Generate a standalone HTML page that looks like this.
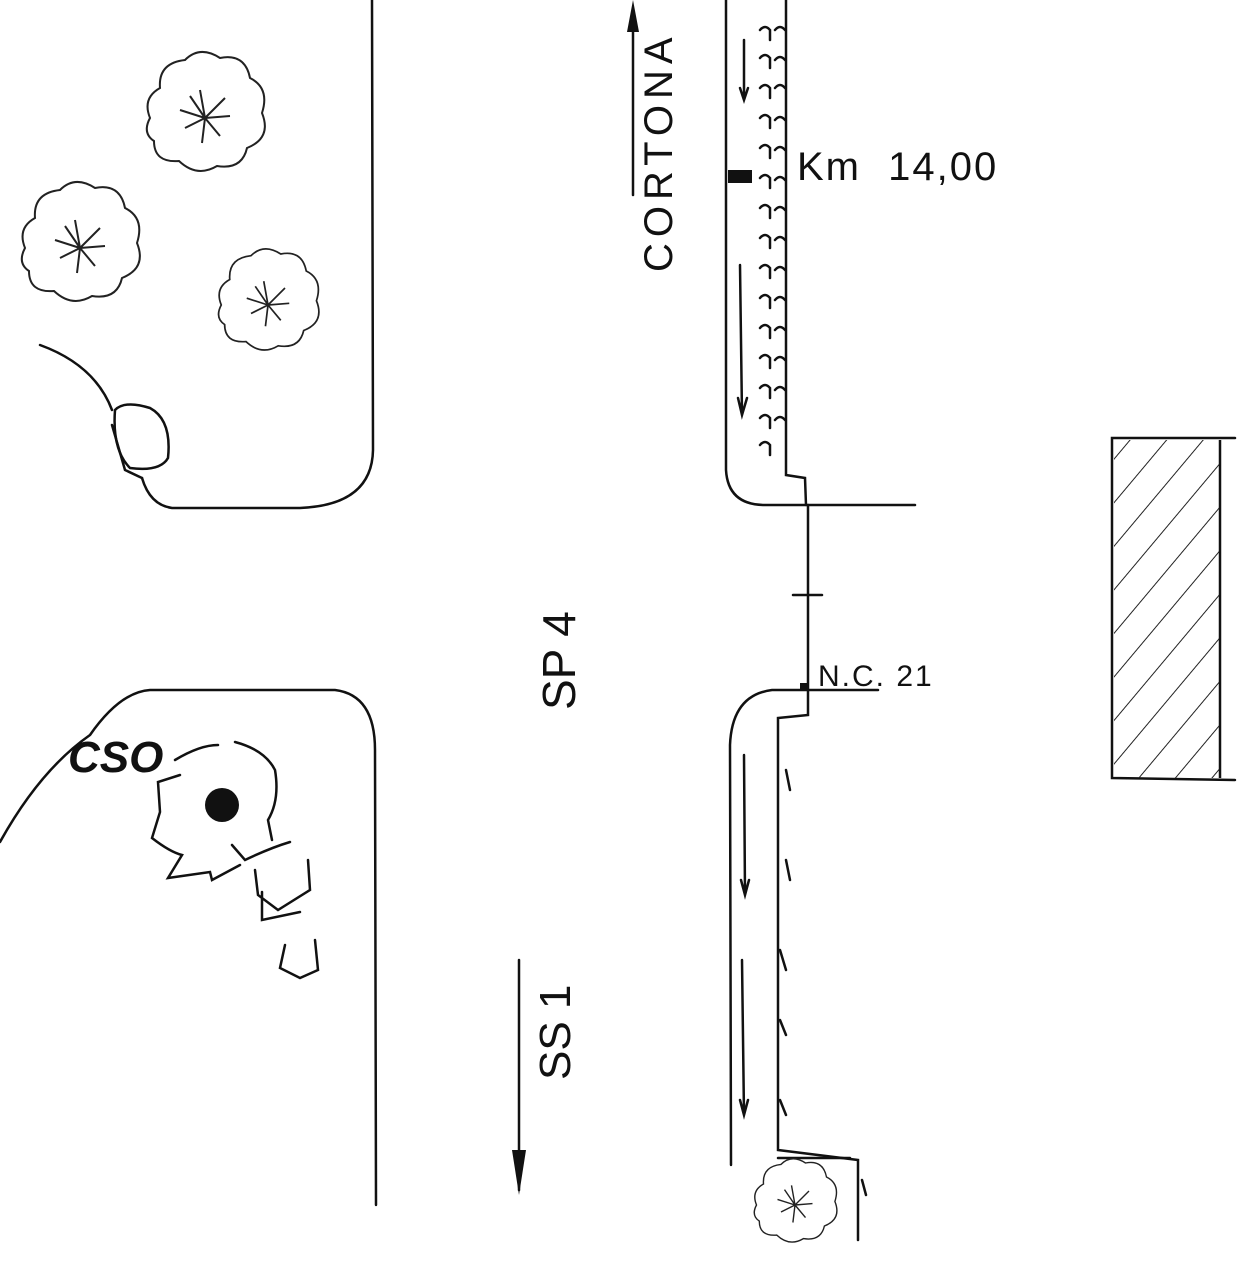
<!DOCTYPE html>
<html><head><meta charset="utf-8"><style>
html,body{margin:0;padding:0;background:#fff;}
svg{display:block}
text{font-family:"Liberation Sans",sans-serif;fill:#111}
</style></head><body>
<svg width="1260" height="1266" viewBox="0 0 1260 1266" xmlns="http://www.w3.org/2000/svg">
<defs>
<pattern id="h" width="28" height="28" patternUnits="userSpaceOnUse" patternTransform="rotate(40)">
<line x1="0" y1="0" x2="0" y2="28" stroke="#222" stroke-width="2"/>
</pattern>
<g id="tree">
<path d="M-55,0 q-8,-20 10,-30 q-2,-25 25,-28 q15,-15 35,-2 q25,-5 30,20 q20,10 12,35 q10,25 -15,35 q-5,22 -30,18 q-20,12 -38,-5 q-25,2 -25,-20 q-12,-8 -4,-23z" fill="none" stroke="#222" stroke-width="2"/>
<path d="M0,0 L-25,-8 M0,0 L-20,10 M0,0 L-5,-28 M0,0 L-3,25 M0,0 L20,-20 M0,0 L25,-2 M0,0 L15,18 M0,0 L-15,-22" stroke="#222" stroke-width="2"/>
</g>
</defs>
<g fill="none" stroke="#111" stroke-width="2.5" stroke-linecap="round">
<path d="M372,0 L373,450 Q372,505 300,508 L172,508 Q150,505 142,478"/>
<path d="M40,345 Q95,365 112,410"/>
<path d="M115,410 Q125,400 150,408 Q172,420 168,458 Q160,472 130,468 Q112,450 115,410z"/>
<path d="M112,425 L125,470 L142,478"/>
<path d="M0,842 Q40,770 90,735 Q120,692 150,690 L335,690 Q375,695 375,750 L376,1205"/>
<path d="M175,760 Q200,745 218,745 M235,742 Q265,750 275,770 Q280,800 268,820 L272,840 M180,775 L158,782 L160,812 L152,838 Q170,852 182,855 L168,878 L210,872 L212,880 L240,865 M232,845 L245,860 Q270,848 290,842 M255,870 L258,895 L278,910 L310,890 L308,860 M262,892 L262,920 L300,912 M285,945 L280,968 L300,978 L318,970 L315,940"/>
<path d="M726,0 L726,470 Q728,505 765,505 L915,505"/>
<path d="M786,0 L786,475 L805,478 L806,505"/>
<path d="M808,505 L808,690"/>
<path d="M793,595 L822,595"/>
<path d="M878,690 L772,690 Q732,695 730,745 L731,1165"/>
<path d="M808,690 L808,715 L778,718 L778,1150 L858,1160 L858,1240"/>
<path d="M778,1158 L850,1158"/>
<path d="M744,40 L744,100 M740,88 L744,100 L748,88"/>
<path d="M740,265 L742,415 M738,398 L742,415 L747,398"/>
<path d="M744,755 L745,895 M741,880 L745,895 L749,880"/>
<path d="M742,960 L744,1115 M740,1100 L744,1115 L748,1100"/>
<path d="M786,770 L790,790 M786,860 L790,880 M780,950 L786,970 M780,1020 L786,1035 M780,1100 L786,1115 M862,1180 L866,1195"/>
<path d="M760,30 q5,-6 10,0 v10 M775,30 q5,-6 10,0 M760,58 q5,-6 10,0 v10 M775,60 q5,-6 10,0 M760,88 q5,-6 10,0 v10 M775,88 q5,-6 10,0 M760,118 q5,-6 10,0 v10 M775,120 q5,-6 10,0 M760,148 q5,-6 10,0 v10 M775,150 q5,-6 10,0 M760,178 q5,-6 10,0 v10 M775,180 q5,-6 10,0 M760,208 q5,-6 10,0 v10 M775,210 q5,-6 10,0 M760,238 q5,-6 10,0 v10 M775,240 q5,-6 10,0 M760,268 q5,-6 10,0 v10 M775,270 q5,-6 10,0 M760,298 q5,-6 10,0 v10 M775,300 q5,-6 10,0 M760,328 q5,-6 10,0 v10 M775,330 q5,-6 10,0 M760,358 q5,-6 10,0 v10 M775,360 q5,-6 10,0 M760,388 q5,-6 10,0 v10 M775,390 q5,-6 10,0 M760,418 q5,-6 10,0 v10 M775,420 q5,-6 10,0 M760,445 q5,-6 10,0 v10"/>
<path d="M633,10 L633,195"/>
<path d="M519,960 L519,1190"/>
<path d="M1235,438 L1112,438 L1112,778 L1235,780"/>
</g>
<rect x="1114" y="440" width="106" height="338" fill="url(#h)"/>
<line x1="1220" y1="440" x2="1220" y2="778" stroke="#111" stroke-width="2.5"/>
<polygon points="633,0 627,32 639,32" fill="#111"/>
<polygon points="519,1195 512,1150 526,1150" fill="#111"/>
<rect x="728" y="170" width="24" height="13" fill="#111"/>
<rect x="800" y="683" width="8" height="8" fill="#111"/>
<circle cx="222" cy="805" r="17" fill="#111"/>
<use href="#tree" x="205" y="118"/>
<use href="#tree" x="80" y="248"/>
<g transform="translate(268,305) scale(0.85)"><use href="#tree"/></g>
<g transform="translate(795,1205) scale(0.7)"><use href="#tree"/></g>
<text x="797" y="180" font-size="40" letter-spacing="2" word-spacing="14">Km 14,00</text>
<text x="818" y="686" font-size="30" letter-spacing="2">N.C. 21</text>
<text font-size="40" letter-spacing="6" transform="translate(672,272) rotate(-90)">CORTONA</text>
<text font-size="46" transform="translate(575,710) rotate(-90)">SP 4</text>
<text font-size="44" transform="translate(570,1080) rotate(-90)">SS 1</text>
<text x="68" y="772" font-size="44" font-weight="bold" font-style="italic">CSO</text>
</svg>
</body></html>
